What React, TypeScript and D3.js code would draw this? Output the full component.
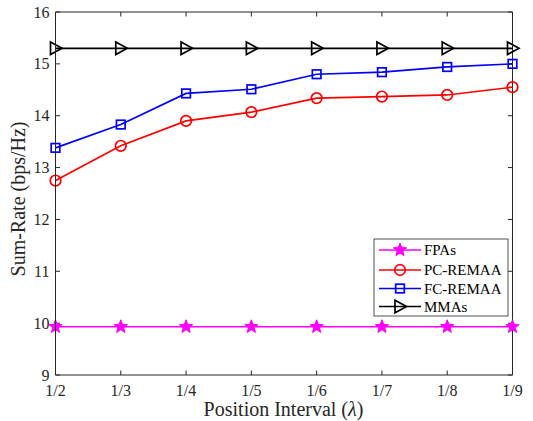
import React from "react";
import * as d3 from "d3";

const categories = ["1/2", "1/3", "1/4", "1/5", "1/6", "1/7", "1/8", "1/9"];
const fpas = [9.93, 9.93, 9.93, 9.93, 9.93, 9.93, 9.93, 9.93];
const pcRemaa = [12.75, 13.42, 13.9, 14.07, 14.34, 14.37, 14.4, 14.55];
const fcRemaa = [13.38, 13.83, 14.43, 14.51, 14.8, 14.84, 14.94, 15.0];
const mmas = [15.3, 15.3, 15.3, 15.3, 15.3, 15.3, 15.3, 15.3];
const yTicks = [9, 10, 11, 12, 13, 14, 15, 16];

const W = 533, H = 421;
const L = 55.5, R = 512.5, T = 12, B = 375;
const font = "'Liberation Serif', 'Times New Roman', serif";

function starPath(cx: number, cy: number, ro: number, ri: number) {
  const pts: string[] = [];
  for (let i = 0; i < 10; i++) {
    const a = -Math.PI / 2 + (i * Math.PI) / 5;
    const r = i % 2 === 0 ? ro : ri;
    pts.push(`${cx + r * Math.cos(a)},${cy + r * Math.sin(a)}`);
  }
  return "M" + pts.join("L") + "Z";
}

function Marker({ kind, x, y, color }: { kind: string; x: number; y: number; color: string }) {
  if (kind === "star")
    return <path d={starPath(x, y, 7, 3)} fill={color} stroke={color} strokeWidth={1} />;
  if (kind === "circle")
    return <circle cx={x} cy={y} r={5.3} fill="none" stroke={color} strokeWidth={1.7} />;
  if (kind === "square")
    return <rect x={x - 4.3} y={y - 4.3} width={8.6} height={8.6} fill="none" stroke={color} strokeWidth={1.7} />;
  return (
    <path d={`M${x - 5},${y - 6.3}L${x + 6.5},${y}L${x - 5},${y + 6.3}Z`} fill="none" stroke={color} strokeWidth={1.7} />
  );
}

const series = [
  { name: "FPAs", data: fpas, color: "#ff00ff", kind: "star" },
  { name: "PC-REMAA", data: pcRemaa, color: "#ff0000", kind: "circle" },
  { name: "FC-REMAA", data: fcRemaa, color: "#0000ff", kind: "square" },
  { name: "MMAs", data: mmas, color: "#000000", kind: "tri" },
];

export default function App() {
  const x = d3.scalePoint<string>().domain(categories).range([L, R]);
  const y = d3.scaleLinear().domain([9, 16]).range([B, T]);
  const line = d3
    .line<number>()
    .x((_, i) => x(categories[i]) as number)
    .y((d) => y(d));

  const legX = 374, legY = 239, legW = 134, legH = 77;
  const rowY = [250, 270, 288.5, 306.5];

  return (
    <svg width={W} height={H} style={{ position: "absolute", left: 0, top: 0, background: "#fff" }}>
      <rect x={0} y={0} width={W} height={H} fill="#fff" />
      {/* box */}
      <line x1={L} y1={T} x2={R} y2={T} stroke="#262626" strokeWidth={1} />
      <line x1={R} y1={T} x2={R} y2={B} stroke="#262626" strokeWidth={1} />
      {/* ticks */}
      {yTicks.map((t) => (
        <g key={"y" + t}>
          <line x1={L} x2={L + 4.5} y1={y(t)} y2={y(t)} stroke="#262626" />
          <line x1={R} x2={R - 4.5} y1={y(t)} y2={y(t)} stroke="#262626" />
          <text x={L - 6} y={y(t)} dy="0.35em" textAnchor="end" fontFamily={font} fontSize={16} fill="#262626">
            {t}
          </text>
        </g>
      ))}
      {categories.map((c) => (
        <g key={"x" + c}>
          <line x1={x(c)} x2={x(c)} y1={B} y2={B - 4.5} stroke="#262626" />
          <line x1={x(c)} x2={x(c)} y1={T} y2={T + 4.5} stroke="#262626" />
          <text x={x(c)} y={B + 21} textAnchor="middle" fontFamily={font} fontSize={16} fill="#262626">
            {c}
          </text>
        </g>
      ))}
      {/* series */}
      {series.map((s) => (
        <g key={s.name}>
          <path d={line(s.data) || ""} fill="none" stroke={s.color} strokeWidth={1.7} />
          {s.data.map((v, i) => (
            <Marker key={i} kind={s.kind} x={x(categories[i]) as number} y={y(v)} color={s.color} />
          ))}
        </g>
      ))}
      <line x1={L} y1={T} x2={L} y2={B} stroke="#262626" strokeWidth={1} />
      <line x1={L} y1={B} x2={R} y2={B} stroke="#262626" strokeWidth={1} />
      {/* labels */}
      <text
        transform={`translate(25,199) rotate(-90)`}
        textAnchor="middle"
        fontFamily={font}
        fontSize={20}
        fill="#262626"
      >
        Sum-Rate (bps/Hz)
      </text>
      <text x={283.5} y={416} textAnchor="middle" fontFamily={font} fontSize={20} fill="#262626">
        Position Interval (<tspan fontStyle="italic">λ</tspan>)
      </text>
      {/* legend */}
      <rect x={legX} y={legY} width={legW} height={legH} fill="#fff" stroke="#262626" strokeWidth={0.8} />
      {series.map((s, i) => (
        <g key={"leg" + s.name}>
          <line x1={379} x2={421} y1={rowY[i]} y2={rowY[i]} stroke={s.color} strokeWidth={1.7} />
          <Marker kind={s.kind} x={400} y={rowY[i]} color={s.color} />
          <text x={424} y={rowY[i]} dy="0.35em" fontFamily={font} fontSize={15} fill="#000">
            {s.name}
          </text>
        </g>
      ))}
    </svg>
  );
}
